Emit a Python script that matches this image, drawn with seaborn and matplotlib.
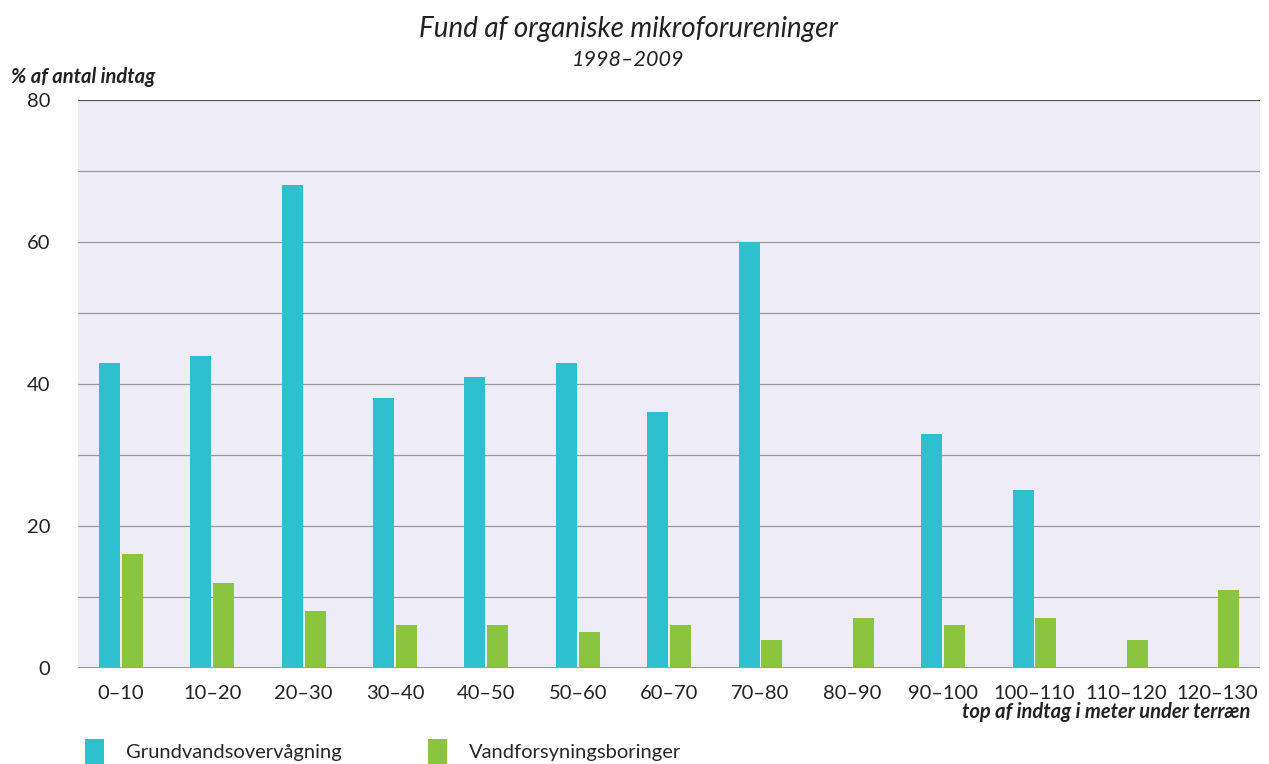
import pandas as pd
import seaborn as sns
import matplotlib.pyplot as plt

# Data
dybder = ['0–10', '10–20', '20–30', '30–40', '40–50', '50–60', '60–70',
          '70–80', '80–90', '90–100', '100–110', '110–120', '120–130']
grundvand = [43, 44, 68, 38, 41, 43, 36, 60, 0.2, 33, 25, 0, 0]
vandforsyning = [16, 12, 8, 6, 6, 5, 6, 4, 7, 6, 7, 4, 11]
serier = ['Grundvandsovervågning', 'Vandforsyningsboringer']
farver = ['#2EC0CE', '#8BC540']

df = pd.DataFrame({
    'dybde': dybder * 2,
    'procent': grundvand + vandforsyning,
    'serie': [serier[0]] * len(dybder) + [serier[1]] * len(dybder),
})

sns.set_theme(style='white')
plt.rcParams['font.family'] = ['Lato', 'DejaVu Sans']

fig = plt.figure(figsize=(12.69, 7.64), dpi=100)
ax = fig.add_axes([0.0615, 0.1257, 0.9315, 0.7434])
ax.set_facecolor('#EEEDF7')

sns.barplot(data=df, x='dybde', y='procent', hue='serie', palette=farver,
            width=0.5, gap=0.08, saturation=1, linewidth=0, ax=ax, zorder=3)

ax.set_ylim(0, 80)
ax.set_xlim(-0.47, 12.47)
ax.set_yticks([0, 20, 40, 60, 80])
ax.set_yticks(range(0, 81, 10), minor=True)
ax.grid(axis='y', which='both', color='#9a9a9a', linewidth=0.9, zorder=0)
ax.axhline(80, color='#444444', linewidth=1.2, zorder=4)
ax.axhline(0, color='#9a9a9a', linewidth=1.5, zorder=4)
for s in ax.spines.values():
    s.set_visible(False)
ax.tick_params(axis='both', which='both', length=0, labelsize=14.5, colors='#222222')
ax.tick_params(axis='y', pad=20)
ax.tick_params(axis='x', pad=12)
ax.set_xlabel('')
ax.set_ylabel('')

fig.text(0.495, 0.962, 'Fund af organiske mikroforureninger', ha='center', va='center',
         fontsize=20, style='italic', color='#222222')
fig.text(0.495, 0.922, '1998–2009', ha='center', va='center',
         fontsize=15.5, style='italic', color='#222222')
fig.text(0.009, 0.899, '% af antal indtag', ha='left', va='center',
         fontsize=14.5, style='italic', fontweight='bold', color='#222222')
fig.text(0.985, 0.068, 'top af indtag i meter under terræn', ha='right', va='center',
         fontsize=14.5, style='italic', fontweight='bold', color='#222222')

handles, labels = ax.get_legend_handles_labels()
ax.legend(handles, labels, loc='lower left', bbox_to_anchor=(0.067, 0.0),
          bbox_transform=fig.transFigure, ncol=2, frameon=False, fontsize=14.5,
          borderpad=0, borderaxespad=0,
          handlelength=0.93, handleheight=1.5, handletextpad=1.1, columnspacing=4.3)

fig.savefig('out.png', dpi=100)
